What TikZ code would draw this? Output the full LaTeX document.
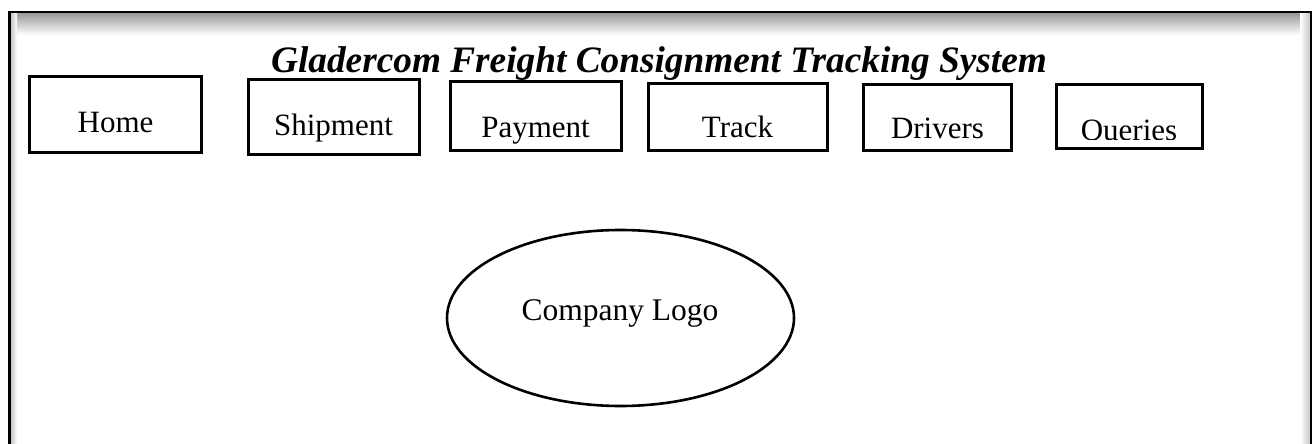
\documentclass[tikz,border=0pt]{standalone}
\usepackage{fontspec}
\setmainfont{Liberation Serif}
\usetikzlibrary{shapes.geometric}
\tikzset{
  menubox/.style={draw, line width=2.8pt, rectangle, inner sep=0pt},
  menulbl/.style={anchor=base, inner sep=0pt, font=\fontsize{31}{32}\selectfont},
  logo/.style={draw, line width=2.6pt, ellipse, inner sep=0pt},
}
\begin{document}
\begin{tikzpicture}[x=1pt,y=-1pt]
\useasboundingbox (0,0) rectangle (1316,444);
% frame shadow
\shade[top color=gray!80, bottom color=white] (10,13) rectangle (1310,35);
\shade[left color=gray!45, right color=white] (11,13) rectangle (17,444);
\shade[left color=white, right color=gray!45] (1300,13) rectangle (1310,444);
% frame
\draw[line width=2.8pt] (9.7,444) -- (9.7,12) -- (1311,12) -- (1311,444);
% title
\node[anchor=base, inner sep=0pt, font=\fontsize{37.3}{40}\selectfont\bfseries\itshape] (title) at (659,73) {Gladercom Freight Consignment Tracking System};
% menu boxes
\node[menubox, minimum width=172.5pt, minimum height=76.5pt] (home) at (115.5,114.5) {};
\node[menulbl] (homel) at (115.5,132) {Home};
\node[menubox, minimum width=171.5pt, minimum height=75.5pt] (ship) at (334,117) {};
\node[menulbl] (shipl) at (333.5,135) {Shipment};
\node[menubox, minimum width=171.5pt, minimum height=69.5pt] (pay) at (536,116) {};
\node[menulbl] (payl) at (535.5,137) {Payment};
\node[menubox, minimum width=179.5pt, minimum height=67.5pt] (track) at (738,117) {};
\node[menulbl] (trackl) at (737.5,137) {Track};
\node[menubox, minimum width=148.5pt, minimum height=66.5pt] (drv) at (937.5,117.5) {};
\node[menulbl] (drvl) at (937.5,138) {Drivers};
\node[menubox, minimum width=146.5pt, minimum height=64.5pt] (qry) at (1129.5,116.5) {};
\begin{scope}
\clip (1056,84) rectangle (1203,139.5);
\node[menulbl] (qryl) at (1129,140) {Queries};
\end{scope}
% logo
\node[logo, minimum width=347pt, minimum height=176pt] (logo) at (620.5,318) {};
\node[menulbl, font=\fontsize{31.5}{33}\selectfont] (logol) at (620,320) {Company Logo};
\end{tikzpicture}
\end{document}
